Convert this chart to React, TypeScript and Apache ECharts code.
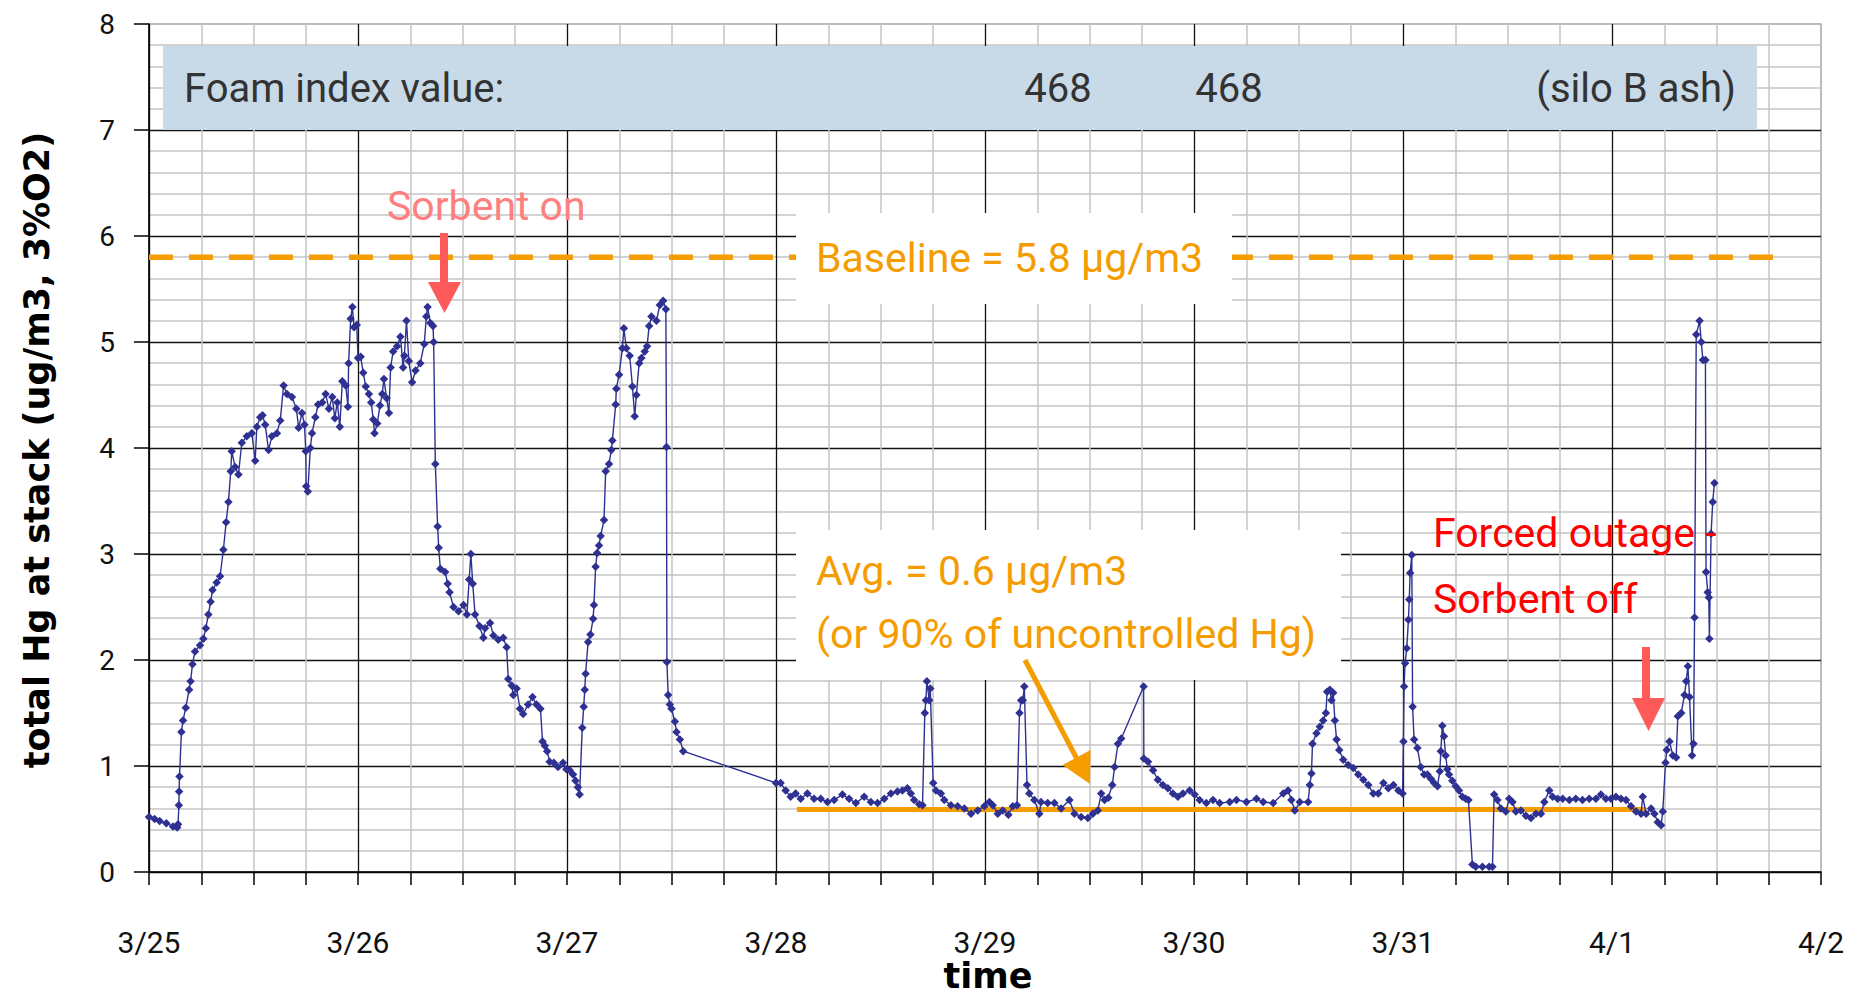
import React, { useEffect, useRef } from 'react';
import * as echarts from 'echarts';

// x values: days since 3/25 00:00
const dateLabels = ['3/25', '3/26', '3/27', '3/28', '3/29', '3/30', '3/31', '4/1', '4/2'];

const hgMar25: [number, number][] = [
  [0.000, 0.52], [0.027, 0.50], [0.051, 0.48], [0.083, 0.46], [0.115, 0.43], [0.135, 0.42], [0.139, 0.45],
  [0.143, 0.63], [0.144, 0.76], [0.146, 0.90], [0.155, 1.32], [0.163, 1.43], [0.176, 1.55], [0.192, 1.72],
  [0.199, 1.80], [0.208, 1.96], [0.220, 2.08], [0.244, 2.14], [0.260, 2.20], [0.272, 2.30], [0.284, 2.43],
  [0.295, 2.55], [0.304, 2.66], [0.324, 2.73], [0.340, 2.79], [0.356, 3.04], [0.369, 3.30], [0.380, 3.49],
  [0.391, 3.78], [0.396, 3.97], [0.412, 3.82], [0.428, 3.75], [0.444, 4.05], [0.468, 4.11], [0.492, 4.14],
  [0.508, 3.88], [0.516, 4.20], [0.532, 4.29], [0.543, 4.31], [0.556, 4.22], [0.572, 3.98], [0.588, 4.11],
  [0.612, 4.14], [0.628, 4.26], [0.644, 4.59], [0.660, 4.51], [0.684, 4.48], [0.705, 4.37], [0.716, 4.19],
  [0.732, 4.33], [0.744, 4.22], [0.750, 3.97], [0.752, 3.64], [0.760, 3.59], [0.772, 4.00], [0.780, 4.14],
  [0.796, 4.29], [0.809, 4.41], [0.829, 4.43], [0.845, 4.51], [0.861, 4.37], [0.877, 4.48], [0.889, 4.28],
  [0.901, 4.43], [0.913, 4.20], [0.925, 4.63], [0.941, 4.59], [0.952, 4.39], [0.955, 4.80], [0.965, 5.22],
  [0.973, 5.33], [0.981, 5.14], [0.994, 5.16],
];

const hgMar26: [number, number][] = [
  [1.000, 4.85], [1.013, 4.86], [1.025, 4.71], [1.037, 4.58], [1.052, 4.51], [1.063, 4.43], [1.073, 4.27],
  [1.079, 4.14], [1.092, 4.23], [1.105, 4.40], [1.116, 4.51], [1.124, 4.65], [1.137, 4.47], [1.148, 4.33],
  [1.156, 4.76], [1.168, 4.91], [1.187, 4.96], [1.203, 5.05], [1.216, 4.76], [1.222, 4.87], [1.232, 5.20],
  [1.243, 4.82], [1.259, 4.62], [1.275, 4.73], [1.298, 4.80], [1.317, 4.98], [1.327, 5.24], [1.333, 5.33],
  [1.346, 5.18], [1.359, 5.15], [1.362, 5.00], [1.370, 3.85], [1.381, 3.26], [1.386, 3.06], [1.394, 2.86],
  [1.417, 2.83], [1.429, 2.72], [1.438, 2.64], [1.457, 2.50], [1.481, 2.46], [1.505, 2.52], [1.521, 2.43],
  [1.532, 2.76], [1.540, 3.00], [1.549, 2.72], [1.560, 2.43], [1.581, 2.32], [1.600, 2.21], [1.608, 2.30],
  [1.632, 2.35], [1.648, 2.23], [1.671, 2.19], [1.695, 2.21], [1.711, 2.12], [1.719, 1.82], [1.735, 1.76],
  [1.743, 1.67], [1.759, 1.73], [1.775, 1.54], [1.790, 1.49], [1.814, 1.58], [1.835, 1.65], [1.854, 1.58],
  [1.873, 1.54], [1.883, 1.23], [1.894, 1.19], [1.905, 1.14], [1.917, 1.04], [1.937, 1.03], [1.957, 0.99],
  [1.981, 1.03], [1.997, 0.97],
];

const hgMar27: [number, number][] = [
  [2.013, 0.96], [2.029, 0.92], [2.041, 0.86], [2.052, 0.80], [2.060, 0.73], [2.073, 1.36], [2.080, 1.56],
  [2.085, 1.72], [2.089, 1.87], [2.101, 2.17], [2.112, 2.24], [2.125, 2.39], [2.129, 2.52], [2.137, 2.88],
  [2.144, 3.01], [2.153, 3.08], [2.161, 3.17], [2.177, 3.32], [2.185, 3.78], [2.201, 3.85], [2.212, 3.98],
  [2.217, 4.07], [2.233, 4.41], [2.236, 4.56], [2.249, 4.69], [2.265, 4.94], [2.272, 5.13], [2.284, 4.94],
  [2.300, 4.87], [2.313, 4.58], [2.324, 4.30], [2.332, 4.50], [2.345, 4.80], [2.356, 4.85], [2.372, 4.91],
  [2.383, 4.96], [2.393, 5.15], [2.404, 5.24], [2.428, 5.20], [2.444, 5.35], [2.460, 5.39], [2.473, 5.31],
  [2.476, 4.01], [2.478, 1.98], [2.484, 1.67], [2.492, 1.58], [2.500, 1.54], [2.516, 1.42], [2.524, 1.32],
  [2.540, 1.25], [2.556, 1.14],
];

const hgMar28: [number, number][] = [
  [3.000, 0.84], [3.022, 0.84], [3.046, 0.77], [3.070, 0.71], [3.094, 0.74], [3.118, 0.69], [3.150, 0.74],
  [3.182, 0.69], [3.214, 0.69], [3.246, 0.66], [3.278, 0.68], [3.318, 0.73], [3.350, 0.69], [3.382, 0.65],
  [3.422, 0.71], [3.454, 0.66], [3.486, 0.65], [3.518, 0.69], [3.550, 0.74], [3.581, 0.76], [3.605, 0.77],
  [3.629, 0.79], [3.645, 0.74], [3.661, 0.68], [3.685, 0.64], [3.701, 0.63], [3.712, 1.50], [3.717, 1.62],
  [3.722, 1.80], [3.733, 1.62], [3.738, 1.73], [3.752, 0.84], [3.765, 0.77], [3.789, 0.74], [3.805, 0.68],
  [3.837, 0.63], [3.869, 0.62], [3.901, 0.60], [3.933, 0.55], [3.965, 0.58], [3.997, 0.62],
];

const hgMar29: [number, number][] = [
  [4.021, 0.66], [4.037, 0.63], [4.061, 0.55], [4.085, 0.58], [4.112, 0.54], [4.133, 0.62], [4.153, 0.63],
  [4.165, 1.50], [4.173, 1.62], [4.181, 1.62], [4.188, 1.75], [4.201, 0.82], [4.212, 0.74], [4.236, 0.68],
  [4.260, 0.55], [4.268, 0.66], [4.300, 0.65], [4.332, 0.65], [4.364, 0.60], [4.404, 0.68], [4.428, 0.55],
  [4.460, 0.52], [4.492, 0.51], [4.516, 0.55], [4.540, 0.58], [4.556, 0.74], [4.572, 0.68], [4.590, 0.70],
  [4.609, 0.82], [4.620, 0.99], [4.636, 1.21], [4.652, 1.26], [4.759, 1.75], [4.760, 1.07], [4.780, 1.04],
  [4.804, 0.96], [4.827, 0.87], [4.851, 0.82], [4.875, 0.79], [4.899, 0.74], [4.923, 0.71], [4.947, 0.74],
  [4.979, 0.77],
];

const hgMar30: [number, number][] = [
  [5.003, 0.73], [5.027, 0.68], [5.059, 0.65], [5.091, 0.68], [5.123, 0.65], [5.171, 0.66], [5.203, 0.68],
  [5.251, 0.66], [5.299, 0.69], [5.331, 0.66], [5.379, 0.65], [5.427, 0.74], [5.450, 0.77], [5.466, 0.68],
  [5.482, 0.58], [5.506, 0.66], [5.546, 0.66], [5.554, 0.82], [5.562, 0.93], [5.567, 1.21], [5.586, 1.31],
  [5.602, 1.37], [5.618, 1.43], [5.631, 1.50], [5.637, 1.70], [5.650, 1.72], [5.658, 1.62], [5.666, 1.69],
  [5.674, 1.43], [5.682, 1.25], [5.695, 1.15], [5.714, 1.06], [5.738, 1.01], [5.762, 0.98], [5.786, 0.92],
  [5.810, 0.87], [5.834, 0.82], [5.858, 0.74], [5.882, 0.74], [5.906, 0.84], [5.930, 0.79], [5.954, 0.82],
  [5.978, 0.77], [5.998, 0.74],
];

const hgMar31: [number, number][] = [
  [6.002, 1.23], [6.005, 1.75], [6.010, 1.97], [6.018, 2.11], [6.026, 2.38], [6.030, 2.57], [6.034, 2.82],
  [6.042, 2.99], [6.046, 1.56], [6.053, 1.25], [6.069, 1.17], [6.085, 0.99], [6.101, 0.92], [6.117, 0.92],
  [6.133, 0.88], [6.149, 0.84], [6.165, 0.81], [6.176, 0.95], [6.181, 1.14], [6.188, 1.38], [6.196, 1.28],
  [6.204, 1.10], [6.212, 0.97], [6.220, 0.92], [6.236, 0.86], [6.252, 0.81], [6.268, 0.77], [6.284, 0.71],
  [6.300, 0.69], [6.313, 0.68], [6.332, 0.07], [6.348, 0.05], [6.380, 0.05], [6.412, 0.05], [6.428, 0.05],
  [6.436, 0.73], [6.452, 0.68], [6.468, 0.60], [6.492, 0.57], [6.508, 0.69], [6.524, 0.66], [6.540, 0.57],
  [6.564, 0.58], [6.588, 0.53], [6.612, 0.51], [6.636, 0.55], [6.660, 0.55], [6.676, 0.66], [6.700, 0.77],
  [6.716, 0.71], [6.740, 0.69], [6.764, 0.69], [6.796, 0.68], [6.827, 0.69], [6.859, 0.68], [6.891, 0.69],
  [6.923, 0.69], [6.947, 0.73], [6.971, 0.69], [6.995, 0.69],
];

const hgApr1: [number, number][] = [
  [7.019, 0.71], [7.043, 0.69], [7.067, 0.68], [7.091, 0.62], [7.115, 0.57], [7.139, 0.55], [7.147, 0.71],
  [7.163, 0.55], [7.187, 0.60], [7.203, 0.55], [7.219, 0.47], [7.235, 0.44], [7.243, 0.57], [7.256, 1.03],
  [7.262, 1.15], [7.275, 1.23], [7.291, 1.10], [7.307, 1.08], [7.315, 1.47], [7.331, 1.50], [7.347, 1.67],
  [7.355, 1.80], [7.363, 1.94], [7.371, 1.65], [7.383, 1.10], [7.390, 1.21], [7.395, 2.40], [7.403, 5.07],
  [7.419, 5.20], [7.427, 5.00], [7.435, 4.83], [7.447, 4.83], [7.450, 2.83], [7.458, 2.64], [7.463, 2.59],
  [7.466, 2.20], [7.474, 3.19], [7.482, 3.49], [7.490, 3.67],
];

const baselineValue = 5.8;
const baselineSpan = [0, 7.8];
const avgValue = 0.59;
const avgSpan = [3.1, 7.163];
const foamIndexValues = ['468', '468'];

const ORANGE = '#f59c00';
const NAVY = '#2e3192';
const ARROW_RED = '#ff5a5a';

export default function App() {
  const ref = useRef<HTMLDivElement>(null);
  useEffect(() => {
    if (!ref.current) return;
    const chart = echarts.init(ref.current, null, { renderer: 'svg' });
    const hgData = [...hgMar25, ...hgMar26, ...hgMar27, ...hgMar28, ...hgMar29, ...hgMar30, ...hgMar31, ...hgApr1];
    const annFont = '41px Roboto';
    chart.setOption({
      animation: false,
      backgroundColor: '#ffffff',
      grid: {
        left: 149, right: 31, top: 24, bottom: 127,
        show: true, borderColor: '#a6a6a6', borderWidth: 1.5, backgroundColor: 'transparent',
      },
      xAxis: {
        type: 'value', min: 0, max: 8, interval: 1,
        axisLine: { show: true, onZero: false, lineStyle: { color: '#000', width: 1.5 } },
        axisTick: { show: true, length: 13, lineStyle: { color: '#000', width: 1.5 } },
        minorTick: { show: true, splitNumber: 4, length: 13, lineStyle: { color: '#000', width: 1.5 } },
        axisLabel: {
          formatter: (v: number) => dateLabels[Math.round(v)] ?? '',
          fontSize: 30, fontFamily: 'Roboto', color: '#111', margin: 55,
          showMinLabel: true, showMaxLabel: true,
        },
        splitLine: { show: true, showMaxLine: false, lineStyle: { color: '#111', width: 1.3 } },
        minorSplitLine: { show: true, lineStyle: { color: '#c4c4c4', width: 1.5 } },
      },
      yAxis: {
        type: 'value', min: 0, max: 8, interval: 1,
        axisLine: { show: true, onZero: false, lineStyle: { color: '#000', width: 1.5 } },
        axisTick: { show: true, length: 15, lineStyle: { color: '#000', width: 1.5 } },
        minorTick: { show: false, splitNumber: 5 },
        axisLabel: { fontSize: 28, fontFamily: 'Roboto', color: '#111', margin: 34 },
        splitLine: { show: true, showMaxLine: false, lineStyle: { color: '#111', width: 1.3 } },
        minorSplitLine: { show: true, lineStyle: { color: '#c4c4c4', width: 1.5 } },
      },
      series: [
        {
          name: 'baseline', type: 'line', z: 3, symbol: 'none', silent: true,
          data: [[baselineSpan[0], baselineValue], [baselineSpan[1], baselineValue]],
          lineStyle: { color: ORANGE, width: 5.5, type: [24, 16] },
        },
        {
          name: 'avg', type: 'line', z: 3, symbol: 'none', silent: true,
          data: [[avgSpan[0], avgValue], [avgSpan[1], avgValue]],
          lineStyle: { color: ORANGE, width: 5 },
        },
        {
          name: 'Hg', type: 'line', z: 8, data: hgData,
          symbol: 'diamond', symbolSize: 8.5, showAllSymbol: true,
          itemStyle: { color: NAVY },
          lineStyle: { color: NAVY, width: 1.4 },
        },
      ],
      graphic: [
        { type: 'rect', z: 5, shape: { x: 163, y: 46, width: 1594, height: 84 }, style: { fill: '#c8dae8' } },
        { type: 'text', z: 10, x: 184, y: 88, style: { text: 'Foam index value:', font: '40px Roboto', fill: '#333', textAlign: 'left', textVerticalAlign: 'middle' } },
        { type: 'text', z: 10, x: 1058, y: 88, style: { text: foamIndexValues[0], font: '40px Roboto', fill: '#333', textAlign: 'center', textVerticalAlign: 'middle' } },
        { type: 'text', z: 10, x: 1229, y: 88, style: { text: foamIndexValues[1], font: '40px Roboto', fill: '#333', textAlign: 'center', textVerticalAlign: 'middle' } },
        { type: 'text', z: 10, x: 1736, y: 88, style: { text: '(silo B ash)', font: '40px Roboto', fill: '#333', textAlign: 'right', textVerticalAlign: 'middle' } },

        { type: 'rect', z: 5, shape: { x: 796, y: 213, width: 436, height: 91 }, style: { fill: '#ffffff' } },
        { type: 'text', z: 10, x: 816, y: 258, style: { text: 'Baseline = 5.8 µg/m3', font: annFont, fill: ORANGE, textAlign: 'left', textVerticalAlign: 'middle' } },

        { type: 'rect', z: 5, shape: { x: 796, y: 530, width: 545, height: 150 }, style: { fill: '#ffffff' } },
        { type: 'text', z: 10, x: 816, y: 571, style: { text: 'Avg. = 0.6 µg/m3', font: annFont, fill: ORANGE, textAlign: 'left', textVerticalAlign: 'middle' } },
        { type: 'text', z: 10, x: 816, y: 634, style: { text: '(or 90% of uncontrolled Hg)', font: annFont, fill: ORANGE, textAlign: 'left', textVerticalAlign: 'middle' } },
        { type: 'line', z: 10, shape: { x1: 1025, y1: 660, x2: 1078, y2: 761 }, style: { stroke: ORANGE, lineWidth: 5 } },
        { type: 'polygon', z: 10, shape: { points: [[1090, 784], [1090.5, 750], [1062.5, 765]] }, style: { fill: ORANGE } },

        { type: 'text', z: 10, x: 387, y: 206, style: { text: 'Sorbent on', font: annFont, fill: '#ff7f7f', textAlign: 'left', textVerticalAlign: 'middle' } },
        { type: 'rect', z: 10, shape: { x: 440, y: 233, width: 8, height: 50 }, style: { fill: ARROW_RED } },
        { type: 'polygon', z: 10, shape: { points: [[428, 282], [461, 282], [444.5, 313]] }, style: { fill: ARROW_RED } },

        { type: 'text', z: 10, x: 1433, y: 533, style: { text: 'Forced outage -', font: annFont, fill: '#ff0000', textAlign: 'left', textVerticalAlign: 'middle' } },
        { type: 'text', z: 10, x: 1433, y: 599, style: { text: 'Sorbent off', font: annFont, fill: '#ff0000', textAlign: 'left', textVerticalAlign: 'middle' } },
        { type: 'rect', z: 10, shape: { x: 1642, y: 647, width: 8, height: 52 }, style: { fill: ARROW_RED } },
        { type: 'polygon', z: 10, shape: { points: [[1632, 698], [1665, 698], [1648.5, 731]] }, style: { fill: ARROW_RED } },

        { type: 'text', z: 10, x: 988, y: 976, style: { text: 'time', font: 'bold 35px "DejaVu Sans"', fill: '#000', textAlign: 'center', textVerticalAlign: 'middle' } },
        { type: 'text', z: 10, x: 37, y: 450, rotation: Math.PI / 2, style: { text: 'total Hg at stack (ug/m3, 3%O2)', font: 'bold 35px "DejaVu Sans"', fill: '#000', textAlign: 'center', textVerticalAlign: 'middle' } },
      ],
    });
    return () => chart.dispose();
  }, []);
  return <div ref={ref} style={{ position: 'fixed', left: 0, top: 0, width: 1852, height: 999, background: '#fff' }} />;
}
